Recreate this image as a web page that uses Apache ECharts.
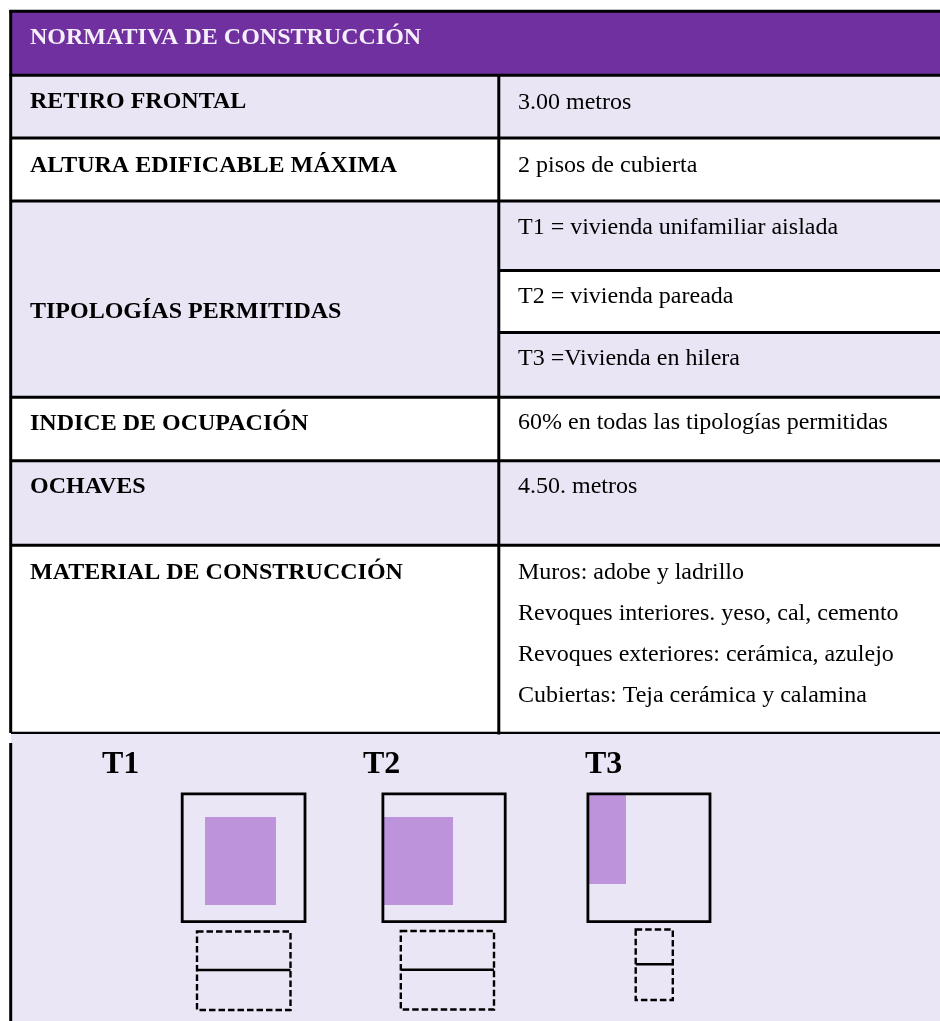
<!DOCTYPE html>
<html><head><meta charset="utf-8">
<style>html,body{margin:0;padding:0;background:#fff}#c{width:940px;height:1021px}</style>
<script src="https://cdn.jsdelivr.net/npm/echarts@6/dist/echarts.min.js"></script>
</head><body><div id="c"></div>
<script>
// Palette keys
var PURPLE='#7030a0', LILAC='#e9e5f4', PANEL='#ebe6f5', WHITE='#ffffff', MASS='#bd93dc', INK='#000000';
// Cell fills: x0, y0, x1, y1, colour
var headerFill=[[11,12,940,75,PURPLE]];
var leftFills=[[11,76,498,138,LILAC],[11,139,498,201,WHITE],[11,201,498,397,LILAC],[11,397,498,461,WHITE],[11,461,498,545,LILAC],[11,545,498,733,WHITE]];
var rightFills=[[498,76,940,138,LILAC],[498,139,940,201,WHITE],[498,201,940,270,LILAC],[498,270,940,332,WHITE],[498,332,940,397,LILAC],[498,397,940,461,WHITE],[498,461,940,545,LILAC],[498,545,940,733,WHITE]];
var panelFill=[[11,733,940,1021,PANEL]];
var massFills=[[205,817,276,905,MASS],[383.3,817,453,905,MASS],[588.7,795,626,884,MASS]];
// Rules: x0, y0, x1, y1, width
var tableRules=[[9.5,11.3,940,11.3,3],[9.5,75.3,940,75.3,3],[11,138,940,138,3],[11,201,940,201,3],[498,270.5,940,270.5,2.8],[498,332.5,940,332.5,2.8],[11,397.3,940,397.3,3],[11,460.7,940,460.7,3],[11,545.3,940,545.3,3],[11,732.8,940,732.8,2.2],[10.7,10,10.7,733,3],[10.7,743,10.7,1021,3],[498.8,75,498.8,734.5,3]];
var sites=[[182.2,793.8,305,921.6],[382.9,793.8,505.2,921.6],[587.9,793.8,710,921.6]];
var plans=[[197,931.5,290.5,1010],[400.8,931,494,1009.5],[635.7,929.5,672.8,1000]];
var planDividers=[[197,970,290.5,970],[400.8,969.7,494,969.7],[635.7,964.3,672.8,964.3]];
// Text: label, x, baseline y
var headerTitle=[['NORMATIVA DE CONSTRUCCIÓN',30,44]];
var rowNames=[['RETIRO FRONTAL',30,108],['ALTURA EDIFICABLE MÁXIMA',30,172],['TIPOLOGÍAS PERMITIDAS',30,318],['INDICE DE OCUPACIÓN',30,430],['OCHAVES',30,493],['MATERIAL DE CONSTRUCCIÓN',30,579]];
var rowValues=[['3.00 metros',518,109],['2 pisos de cubierta',518,172],['T1 = vivienda unifamiliar aislada',518,234],['T2 = vivienda pareada',518,302.5],['T3 =Vivienda en hilera',518,365],['60% en todas las tipologías permitidas',518,429],['4.50. metros',518,493],['Muros: adobe y ladrillo',518,578.5],['Revoques interiores. yeso, cal, cemento',518,619.5],['Revoques exteriores: cerámica, azulejo',518,660.5],['Cubiertas: Teja cerámica y calamina',518,701.5]];
var typeTitles=[['T1',102,773],['T2',363,773],['T3',585,773]];

var FONT='"Liberation Serif","Times New Roman",serif';
function rectSeries(data,z){return {type:'custom',coordinateSystem:'cartesian2d',silent:true,clip:false,z:z,data:data,
  encode:{x:[0,2],y:[1,3]},
  renderItem:function(p,api){var a=api.coord([api.value(0),api.value(1)]),b=api.coord([api.value(2),api.value(3)]);
    return {type:'rect',shape:{x:a[0],y:a[1],width:b[0]-a[0],height:b[1]-a[1]},style:{fill:data[p.dataIndex][4]}};}};}
function ruleSeries(data,z){return {type:'custom',coordinateSystem:'cartesian2d',silent:true,clip:false,z:z,data:data,
  encode:{x:[0,2],y:[1,3]},
  renderItem:function(p,api){var a=api.coord([api.value(0),api.value(1)]),b=api.coord([api.value(2),api.value(3)]),w=data[p.dataIndex][4];
    return {type:'line',shape:{x1:a[0],y1:a[1],x2:b[0],y2:b[1]},style:{stroke:INK,lineWidth:w}};}};}
function boxSeries(data,w,dash,z){return {type:'custom',coordinateSystem:'cartesian2d',silent:true,clip:false,z:z,data:data,
  encode:{x:[0,2],y:[1,3]},
  renderItem:function(p,api){var a=api.coord([api.value(0),api.value(1)]),b=api.coord([api.value(2),api.value(3)]);
    return {type:'rect',shape:{x:a[0],y:a[1],width:b[0]-a[0],height:b[1]-a[1]},style:{fill:null,stroke:INK,lineWidth:w,lineDash:dash||null}};}};}
function textSeries(data,size,weight,color,z){return {type:'custom',coordinateSystem:'cartesian2d',silent:true,clip:false,z:z,
  data:data.map(function(d){return [d[1],d[2],d[0]];}),encode:{x:0,y:1},
  renderItem:function(p,api){var a=api.coord([api.value(0),api.value(1)]);
    return {type:'text',x:a[0],y:a[1]-size*0.25,style:{text:data[p.dataIndex][0],fill:color,font:weight+' '+size+'px '+FONT,textAlign:'left',textVerticalAlign:'middle',verticalAlign:'middle'}};}};}

var chart=echarts.init(document.getElementById('c'),null,{renderer:'canvas'});
chart.setOption({animation:false,backgroundColor:'#fff',
  grid:{left:0,right:0,top:0,bottom:0},
  xAxis:{type:'value',min:0,max:940,show:false},
  yAxis:{type:'value',min:0,max:1021,inverse:true,show:false},
  series:[
    rectSeries(headerFill,1),rectSeries(leftFills,1),rectSeries(rightFills,1),rectSeries(panelFill,1),
    rectSeries(massFills,2),
    ruleSeries(tableRules,3),
    boxSeries(sites,2.8,null,4),
    boxSeries(plans,2.4,[6.5,3],4),
    ruleSeries(planDividers.map(function(r){return r.concat([2.4]);}),4),
    textSeries(headerTitle,24,'bold','#f4eff8',5),
    textSeries(rowNames,24,'bold',INK,5),
    textSeries(rowValues,24,'normal',INK,5),
    textSeries(typeTitles,32,'bold',INK,5)
  ]});
</script></body></html>
